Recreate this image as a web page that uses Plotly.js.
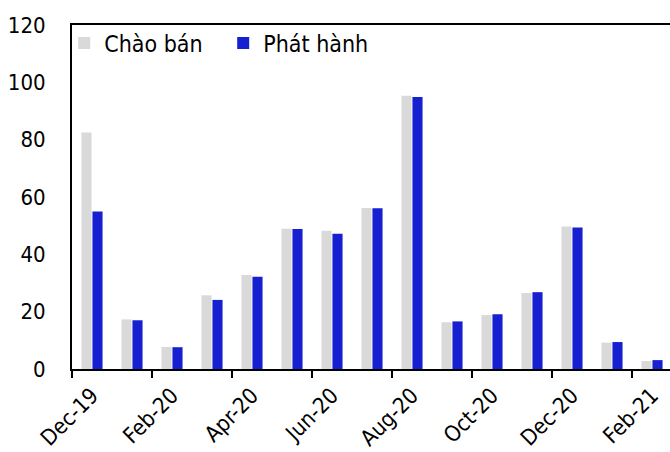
<!DOCTYPE html>
<html>
<head>
<meta charset="utf-8">
<script src="https://cdn.plot.ly/plotly-3.0.1.min.js"></script>
<style>
  html, body { margin: 0; padding: 0; overflow: hidden; background: #fff; }
  #chart { width: 674px; height: 452px; }
</style>
</head>
<body>
<div id="chart"></div>
<script>
// Monthly bond volumes: offered (Chào bán) vs issued (Phát hành)
const months = ['Dec-19', 'Jan-20', 'Feb-20', 'Mar-20', 'Apr-20', 'May-20', 'Jun-20', 'Jul-20',
                'Aug-20', 'Sep-20', 'Oct-20', 'Nov-20', 'Dec-20', 'Jan-21', 'Feb-21'];
const chaoBan  = [82.5, 17.3, 7.7, 25.7, 32.8, 48.9, 48.2, 56.2, 95.3, 16.3, 18.8, 26.5, 49.7, 9.2, 2.8];
const phatHanh = [54.9, 17.0, 7.6, 24.1, 32.2, 48.8, 47.2, 56.1, 94.9, 16.6, 19.1, 26.8, 49.4, 9.4, 3.1];
const labelledMonths = ['Dec-19', 'Feb-20', 'Apr-20', 'Jun-20', 'Aug-20', 'Oct-20', 'Dec-20', 'Feb-21'];
const yTicks = [0, 20, 40, 60, 80, 100, 120];

const FONT = "Tahoma, 'DejaVu Sans Condensed', 'Liberation Sans', sans-serif";

const traces = [
  { type: 'bar', name: 'Chào bán', x: months, y: chaoBan,
    marker: { color: '#d9d9d9' } },
  { type: 'bar', name: 'Phát hành', x: months, y: phatHanh,
    marker: { color: '#1620d0' } }
];

const layout = {
  width: 674, height: 452,
  margin: { l: 72, r: 2, t: 25, b: 83 },
  paper_bgcolor: '#fff', plot_bgcolor: '#fff',
  font: { family: FONT, size: 22, color: '#000' },
  barmode: 'group', bargap: 0.45, bargroupgap: 0.08,
  showlegend: true,
  legend: { orientation: 'h', x: -0.013, y: 1.01, xanchor: 'left', yanchor: 'top',
            bgcolor: 'rgba(0,0,0,0)', font: { family: FONT, size: 23 },
            itemwidth: 30, entrywidth: 114, tracegroupgap: 0 },
  xaxis: {
    type: 'category', range: [-0.5, 14.5],
    tickmode: 'array', tickvals: labelledMonths, ticktext: labelledMonths,
    tickson: 'boundaries', ticks: 'outside', ticklen: 7, tickwidth: 1.5, tickcolor: '#000',
    ticklabelstandoff: 3,
    tickangle: -45, tickfont: { family: FONT, size: 22 },
    showline: true, linecolor: '#000', linewidth: 2, mirror: true,
    showgrid: false, zeroline: false
  },
  yaxis: {
    range: [0, 120], tickmode: 'array', tickvals: yTicks,
    ticks: 'outside', ticklen: 20, tickcolor: 'rgba(0,0,0,0)',
    tickfont: { family: FONT, size: 22 },
    showline: true, linecolor: '#000', linewidth: 2, mirror: true,
    showgrid: false, zeroline: false
  }
};

Plotly.newPlot('chart', traces, layout, { staticPlot: true, displayModeBar: false });
</script>
</body>
</html>
